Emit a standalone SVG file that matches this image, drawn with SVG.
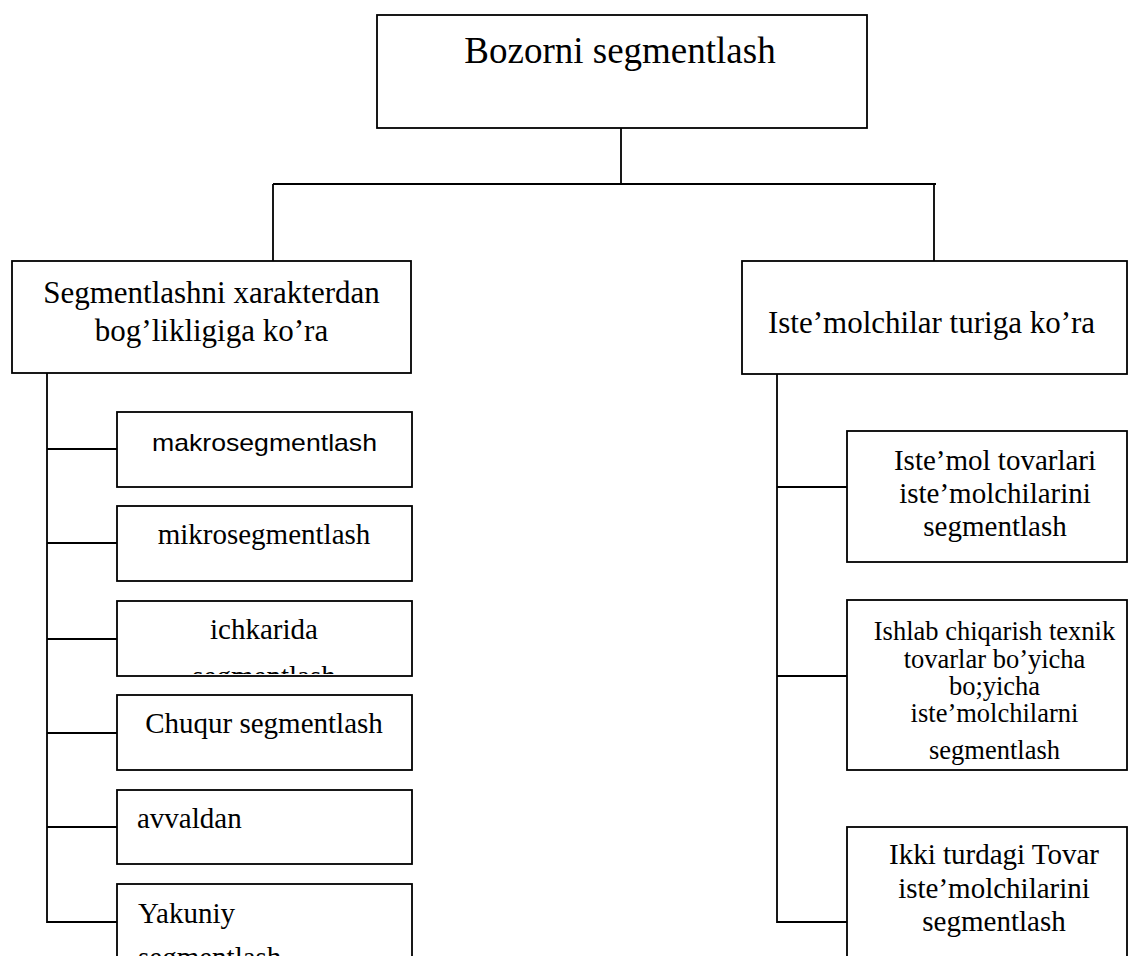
<svg xmlns="http://www.w3.org/2000/svg" width="1130" height="956" viewBox="0 0 1130 956">
<style>
.box{fill:#fff;stroke:#000;stroke-width:1.8}
.ln{fill:none;stroke:#000;stroke-width:1.8}
.t{font-family:"Liberation Serif","Times New Roman",serif;fill:#000}
.c{text-anchor:middle}
.s{font-family:"Liberation Sans",Arial,sans-serif;fill:#000}
</style>
<defs>
<clipPath id="clipIch"><rect x="118" y="602" width="293" height="72"/></clipPath>
<clipPath id="clipYak"><rect x="118" y="885" width="293" height="71"/></clipPath>
<clipPath id="clipIsh"><rect x="848" y="601" width="278" height="168"/></clipPath>
</defs>
<g id="connectors">
<path class="ln" d="M621 128V184M273 184H936M273 184V261M934 184V261"/>
<path class="ln" d="M47 373V922H117M47 449H117M47 543H117M47 639H117M47 733H117M47 827H117"/>
<path class="ln" d="M777 374V922H847M777 487H847M777 676H847"/>
</g>
<g id="root">
<rect class="box" x="377" y="15" width="490" height="113"/>
<text class="t c" x="620" y="63" font-size="37">Bozorni segmentlash</text>
</g>
<g id="left-category">
<rect class="box" x="12" y="261" width="399" height="112"/>
<text class="t c" x="211.5" y="303" font-size="31">Segmentlashni xarakterdan</text>
<text class="t c" x="211.5" y="341" font-size="31">bog’likligiga ko’ra</text>
</g>
<g id="right-category">
<rect class="box" x="742" y="261" width="385" height="113"/>
<text class="t c" x="931.5" y="333" font-size="31">Iste’molchilar turiga ko’ra</text>
</g>
<g id="makro">
<rect class="box" x="117" y="412" width="295" height="75"/>
<text class="s c" x="264.5" y="451" font-size="24" textLength="225" lengthAdjust="spacingAndGlyphs">makrosegmentlash</text>
</g>
<g id="mikro">
<rect class="box" x="117" y="506" width="295" height="75"/>
<text class="t c" x="264" y="544" font-size="29">mikrosegmentlash</text>
</g>
<g id="ichkarida">
<rect class="box" x="117" y="601" width="295" height="75"/>
<g clip-path="url(#clipIch)">
<text class="t c" x="264" y="639" font-size="29">ichkarida</text>
<text class="t c" x="264" y="686" font-size="29">segmentlash</text>
</g>
</g>
<g id="chuqur">
<rect class="box" x="117" y="695" width="295" height="75"/>
<text class="t c" x="264" y="733" font-size="29">Chuqur segmentlash</text>
</g>
<g id="avvaldan">
<rect class="box" x="117" y="790" width="295" height="74"/>
<text class="t" x="137" y="828" font-size="29">avvaldan</text>
</g>
<g id="yakuniy">
<rect class="box" x="117" y="884" width="295" height="80"/>
<g clip-path="url(#clipYak)">
<text class="t" x="138" y="923" font-size="29">Yakuniy</text>
<text class="t" x="138" y="967" font-size="29">segmentlash</text>
</g>
</g>
<g id="istemol">
<rect class="box" x="847" y="431" width="280" height="131"/>
<text class="t c" x="995" y="470" font-size="29">Iste’mol tovarlari</text>
<text class="t c" x="995" y="503" font-size="29">iste’molchilarini</text>
<text class="t c" x="995" y="536" font-size="29">segmentlash</text>
</g>
<g id="ishlab">
<rect class="box" x="847" y="600" width="280" height="170"/>
<g clip-path="url(#clipIsh)">
<text class="t c" x="994.5" y="640" font-size="26.5">Ishlab chiqarish texnik</text>
<text class="t c" x="994.5" y="668" font-size="26.5">tovarlar bo’yicha</text>
<text class="t c" x="994.5" y="695" font-size="26.5">bo;yicha</text>
<text class="t c" x="994.5" y="722" font-size="26.5">iste’molchilarni</text>
<text class="t c" x="994.5" y="759" font-size="26.5">segmentlash</text>
</g>
</g>
<g id="ikki">
<rect class="box" x="847" y="827" width="280" height="140"/>
<text class="t c" x="994" y="864" font-size="29">Ikki turdagi Tovar</text>
<text class="t c" x="994" y="898" font-size="29">iste’molchilarini</text>
<text class="t c" x="994" y="931" font-size="29">segmentlash</text>
</g>
</svg>
